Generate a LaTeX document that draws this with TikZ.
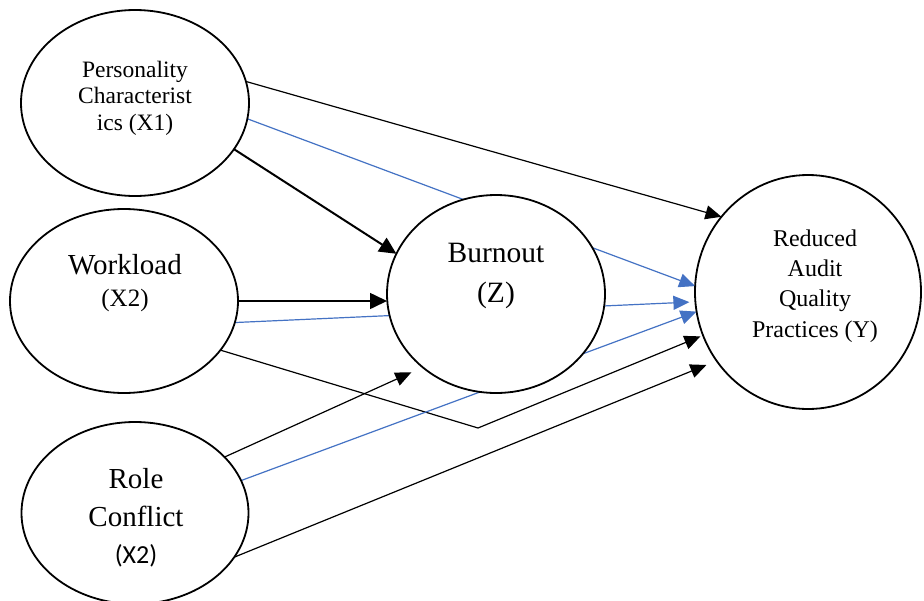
\documentclass[tikz,border=0pt]{standalone}
\usepackage{fontspec}
\setmainfont{Liberation Serif}
\newfontfamily\carlito{Carlito}
\usetikzlibrary{shapes.geometric,arrows.meta}
\pgfdeclarelayer{bg}
\pgfsetlayers{bg,main}
\definecolor{lnblue}{HTML}{4472C4}
\begin{document}
\begin{tikzpicture}[x=1pt,y=-1pt,
  oval/.style={ellipse,draw=black,line width=1.8pt,fill=white,inner sep=0pt,outer sep=0pt},
  lbl/.style={align=center,inner sep=0pt},
  blk/.style={draw=black,line width=1.2pt,-{Triangle[length=16pt,width=14pt]}},
  blkthick/.style={draw=black,line width=2pt,-{Triangle[length=17pt,width=16pt]}},
  blu/.style={draw=lnblue,line width=1.2pt,-{Triangle[length=16pt,width=14pt]}}
]
\useasboundingbox (0,0) rectangle (924,600);

\node[oval,minimum width=228pt,minimum height=186pt] (X1) at (135,103) {};
\node[oval,minimum width=228pt,minimum height=184pt] (X2) at (124,301) {};
\node[oval,minimum width=227pt,minimum height=182pt] (X3) at (135,513) {};
\node[oval,minimum width=218pt,minimum height=198pt] (Z) at (496,294) {};
\node[oval,minimum width=226pt,minimum height=234pt] (Y) at (808,292) {};

\node[lbl,font=\fontsize{23.5}{26.5}\selectfont] (T1) at (135,98) {Personality\\Characterist\\ics (X1)};
\node[lbl,font=\fontsize{25}{32}\selectfont] (T2) at (125,283) {{\fontsize{29}{32}\selectfont Workload}\\(X2)};
\node[lbl,font=\fontsize{29.5}{40}\selectfont] (T3) at (496,276) {Burnout\\(Z)};
\node[lbl,font=\fontsize{29}{37.5}\selectfont] (T4) at (136,518) {Role\\Conflict\\{\carlito\fontsize{26}{37.5}\selectfont (X2)}};
\node[lbl,font=\fontsize{24}{30.3}\selectfont] (T5) at (815,286) {Reduced\\Audit\\Quality\\Practices (Y)};

\coordinate (bend) at (478,428);

\begin{pgfonlayer}{bg}
\fill[white] (0,0) rectangle (924,600);
\draw[blk] (X1.11) -- (Y.139);
\draw[blu] (X1.-8.5) -- (Y.177.5);
\draw[blkthick] (X1.-25) -- (Z.158);
\draw[blkthick,line width=1.6pt] (X2.east) -- (X2.east -| Z.west);
\draw[blu,shorten >=6pt] (X2.-11) -- (Y.185.5);
\draw[blk] (X2.-27) -- (bend) -- ([shift={(-3pt,0pt)}]Y.203);
\draw[blk,shorten >=12.5pt] (X3.32) -- (Z.225.5);
\draw[blu] (X3.17) -- (Y.190.7);
\draw[blk,shorten >=11pt] (X3.-24.5) -- (Y.217.7);
\end{pgfonlayer}
\end{tikzpicture}
\end{document}
